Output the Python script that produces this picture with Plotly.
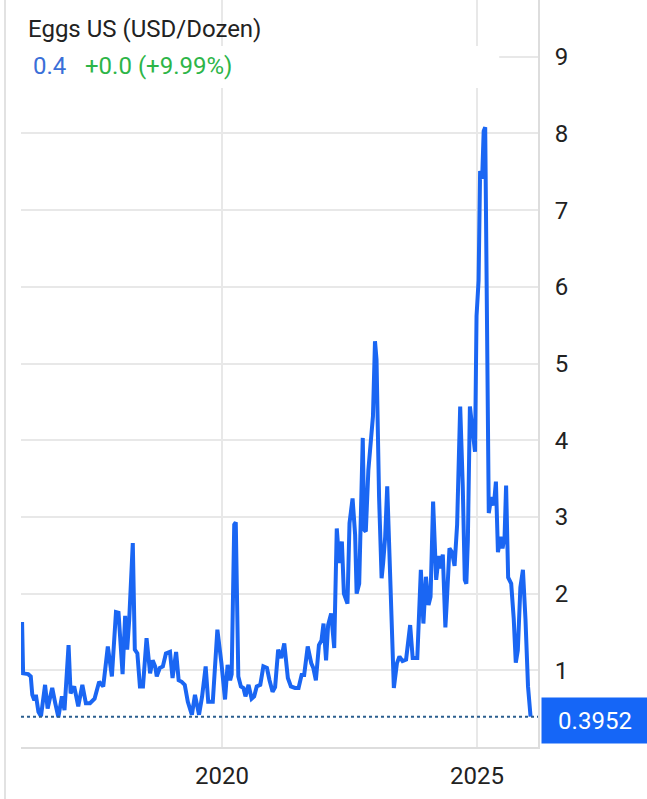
import plotly.graph_objects as go
from datetime import datetime

# ---- data ----
years = [2016.08, 2016.10, 2016.20, 2016.25, 2016.28, 2016.32, 2016.35, 2016.40, 2016.45, 2016.53,
         2016.58, 2016.67, 2016.73, 2016.79, 2016.86, 2016.91, 2016.99, 2017.03, 2017.10, 2017.14,
         2017.18, 2017.26, 2017.33, 2017.41, 2017.50, 2017.59, 2017.67, 2017.76, 2017.84, 2017.92,
         2017.97, 2018.05, 2018.10, 2018.14, 2018.18, 2018.25, 2018.29, 2018.34, 2018.39, 2018.45,
         2018.52, 2018.59, 2018.64, 2018.69, 2018.72, 2018.78, 2018.84, 2018.90, 2018.98, 2019.03,
         2019.10, 2019.15, 2019.21, 2019.27, 2019.33, 2019.41, 2019.47, 2019.55, 2019.61, 2019.68,
         2019.73, 2019.82, 2019.91, 2019.99, 2020.06, 2020.11, 2020.16, 2020.19, 2020.24, 2020.27,
         2020.32, 2020.37, 2020.42, 2020.46, 2020.52, 2020.58, 2020.63, 2020.68, 2020.75, 2020.81,
         2020.88, 2020.93, 2020.99, 2021.04, 2021.10, 2021.16, 2021.22, 2021.29, 2021.35, 2021.43,
         2021.50, 2021.56, 2021.61, 2021.68, 2021.75, 2021.79, 2021.84, 2021.90, 2021.95, 2021.99,
         2022.04, 2022.08, 2022.14, 2022.20, 2022.25, 2022.30, 2022.35, 2022.39, 2022.46, 2022.50,
         2022.56, 2022.61, 2022.64, 2022.69, 2022.76, 2022.79, 2022.82, 2022.87, 2022.92, 2022.96,
         2023.00, 2023.03, 2023.08, 2023.13, 2023.16, 2023.20, 2023.24, 2023.29, 2023.35, 2023.37,
         2023.43, 2023.48, 2023.54, 2023.61, 2023.69, 2023.74, 2023.83, 2023.90, 2023.95, 2024.00,
         2024.05, 2024.09, 2024.14, 2024.20, 2024.25, 2024.28, 2024.33, 2024.38, 2024.41, 2024.46,
         2024.51, 2024.56, 2024.61, 2024.67, 2024.72, 2024.76, 2024.79, 2024.82, 2024.86, 2024.90,
         2024.96, 2024.99, 2025.03, 2025.06, 2025.10, 2025.13, 2025.16, 2025.23, 2025.28, 2025.33,
         2025.37, 2025.41, 2025.46, 2025.50, 2025.54, 2025.57, 2025.61, 2025.67, 2025.72, 2025.76,
         2025.80, 2025.85, 2025.90, 2025.95, 2026.00, 2026.05]

prices = [1.63, 0.96, 0.95, 0.92, 0.68, 0.61, 0.68, 0.46, 0.40, 0.81,
          0.50, 0.77, 0.57, 0.39, 0.66, 0.48, 1.33, 0.70, 0.79, 0.67,
          0.53, 0.81, 0.57, 0.57, 0.63, 0.85, 0.79, 1.31, 0.92, 1.76,
          1.75, 0.95, 1.71, 1.27, 1.66, 2.66, 1.27, 1.22, 0.79, 0.79,
          1.42, 0.96, 1.13, 1.05, 0.92, 1.03, 1.05, 1.22, 1.24, 0.90,
          1.24, 0.87, 0.85, 0.81, 0.59, 0.42, 0.68, 0.42, 0.66, 1.05,
          0.59, 0.59, 1.53, 1.09, 0.62, 1.07, 0.87, 0.95, 2.90, 2.93,
          0.92, 0.79, 0.77, 0.66, 0.81, 0.63, 0.66, 0.79, 0.81, 1.05,
          1.03, 0.87, 0.72, 0.78, 1.27, 1.16, 1.35, 0.90, 0.79, 0.77,
          0.77, 0.94, 0.94, 1.31, 1.09, 1.03, 0.87, 1.33, 1.39, 1.61,
          1.13, 1.59, 1.74, 1.29, 2.85, 2.40, 2.68, 2.00, 1.87, 2.92,
          3.24, 2.77, 2.00, 2.13, 4.03, 2.83, 2.81, 3.61, 4.09, 4.31,
          5.29, 5.05, 3.26, 2.20, 2.40, 2.74, 3.40, 2.40, 1.27, 0.77,
          1.09, 1.18, 1.12, 1.14, 1.59, 1.16, 1.16, 2.31, 1.61, 2.22,
          1.85, 1.96, 3.20, 2.18, 2.49, 2.33, 2.51, 1.56, 1.92, 2.59,
          2.54, 2.36, 2.90, 4.44, 3.41, 2.18, 2.13, 2.69, 4.44, 4.23,
          3.85, 5.62, 6.08, 7.51, 7.41, 8.03, 8.08, 3.05, 3.26, 3.15,
          3.46, 2.54, 2.74, 2.59, 2.74, 3.41, 2.21, 2.13, 1.67, 1.10,
          1.26, 2.08, 2.31, 1.67, 0.79, 0.3952]

y_ticks = [1, 2, 3, 4, 5, 6, 7, 8, 9]
x_tick_dates = ["2020-01-01", "2025-01-01"]
x_tick_labels = ["2020", "2025"]
last_price = 0.3952
title_text = "Eggs US (USD/Dozen)"
value_text = "0.4"
change_text = "+0.0 (+9.99%)"


def to_date(y):
    yr = int(y)
    start = datetime(yr, 1, 1)
    end = datetime(yr + 1, 1, 1)
    return start + (end - start) * (y - yr)


dates = [to_date(v) for v in years]

LINE = "#1A66F3"
GRID = "#E8E8E8"
TXT = "#222222"
FONT = "Roboto"
FS = 24

fig = go.Figure()
fig.add_trace(go.Scatter(x=dates, y=prices, mode="lines",
                         line=dict(color=LINE, width=4), hoverinfo="skip",
                         showlegend=False))

fig.update_layout(
    width=647, height=799,
    margin=dict(l=21, r=109, t=0, b=52),
    paper_bgcolor="white", plot_bgcolor="white",
    font=dict(family=FONT, color=TXT),
    xaxis=dict(
        type="date",
        range=[to_date(2016.059), to_date(2026.196)],
        tickvals=x_tick_dates, ticktext=x_tick_labels,
        tickfont=dict(size=FS, color=TXT, family=FONT),
        showgrid=True, gridcolor=GRID, gridwidth=1.5,
        showline=True, linecolor="#DDDDDD", linewidth=2,
        ticks="", zeroline=False, ticklabelstandoff=6,
    ),
    yaxis=dict(
        side="right", range=[0, 9.74],
        tickvals=y_ticks,
        tickfont=dict(size=FS, color=TXT, family=FONT),
        showgrid=True, gridcolor=GRID, gridwidth=1.5,
        showline=True, linecolor="#DDDDDD", linewidth=2,
        ticks="", zeroline=False, ticklabelstandoff=10,
    ),
)

# header backdrop (hides the grid behind the header rows)
fig.add_shape(type="rect", xref="paper", yref="paper", layer="above",
              x0=-0.02, x1=0.925, y0=(747 - 88) / 747, y1=(747 - 46) / 747,
              fillcolor="white", line=dict(width=0))

# last-value dotted line
fig.add_shape(type="line", xref="paper", yref="y", x0=0, x1=1.0,
              y0=last_price, y1=last_price,
              line=dict(color="#2B5E8E", width=2, dash="dot"))

# left border of the widget
fig.add_shape(type="line", xref="paper", yref="paper",
              x0=-0.031, x1=-0.031, y0=-0.07, y1=1.0,
              line=dict(color="#E2E2E2", width=2))

# last-value label box
fig.add_annotation(xref="paper", yref="y", x=1.0, y=last_price,
                   xanchor="left", yanchor="middle", xshift=3, yshift=-4,
                   text=f"{last_price:.4f}", showarrow=False,
                   bgcolor="#1566F7", borderpad=0, width=106, height=45,
                   font=dict(color="white", size=FS, family=FONT))

# header
fig.add_annotation(xref="paper", yref="paper", x=0.0097, y=(747 - 29) / 747,
                   xanchor="left", yanchor="middle", text=title_text,
                   showarrow=False, font=dict(size=FS, color=TXT, family=FONT))
fig.add_annotation(xref="paper", yref="paper", x=0.019, y=(747 - 66) / 747,
                   xanchor="left", yanchor="middle", text=value_text,
                   showarrow=False, font=dict(size=FS, color="#3A6FD8", family=FONT))
fig.add_annotation(xref="paper", yref="paper", x=0.120, y=(747 - 66) / 747,
                   xanchor="left", yanchor="middle", text=change_text,
                   showarrow=False, font=dict(size=FS, color="#2DB548", family=FONT))

fig.write_html("out.html", config={"displayModeBar": False},
               post_script="document.body.style.margin='0';")
